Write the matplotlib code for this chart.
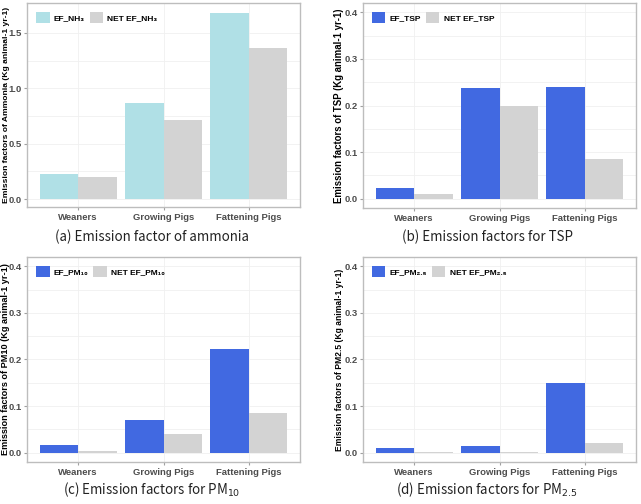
import matplotlib.pyplot as plt
import numpy as np

plt.rcParams["font.family"] = ["Liberation Sans", "DejaVu Sans"]

categories = ["Weaners", "Growing Pigs", "Fattening Pigs"]

ef_nh3 = [0.223, 0.867, 1.683]
net_nh3 = [0.199, 0.716, 1.367]
ef_tsp = [0.022, 0.2375, 0.2405]
net_tsp = [0.0107, 0.200, 0.085]
ef_pm10 = [0.017, 0.071, 0.2235]
net_pm10 = [0.0043, 0.041, 0.0855]
ef_pm25 = [0.011, 0.015, 0.1505]
net_pm25 = [0.0005, 0.002, 0.021]

W, H = 641, 504
fig = plt.figure(figsize=(W / 100, H / 100), dpi=100)


def px_axes(x0, y0, x1, y1):
    return fig.add_axes([x0 / W, 1 - y1 / H, (x1 - x0) / W, (y1 - y0) / H])


def panel(ax, ef, net, c_ef, lab_ef, lab_net, ylabel, yticks, ylim, lab_x, lab_len):
    x = np.arange(1, len(categories) + 1)
    w = 0.45
    ax.bar(x - w / 2, ef, w, color=c_ef, label=lab_ef, zorder=2)
    ax.bar(x + w / 2, net, w, color="#D3D3D3", label=lab_net, zorder=2)
    ax.set_xlim(0.4, 3.6)
    ax.set_ylim(*ylim)
    ax.set_xticks(x)
    ax.set_xticklabels(categories, fontsize=6.8, fontweight="bold", color="#4D4D4D")
    ax.set_yticks(yticks)
    ax.set_yticklabels([f"{t:.1f}" for t in yticks], fontsize=6.8,
                       fontweight="bold", color="#4D4D4D")
    minor = [(a + b) / 2 for a, b in zip(yticks[:-1], yticks[1:])]
    ax.set_yticks(minor, minor=True)
    ax.tick_params(which="minor", length=0)
    ax.tick_params(which="major", length=2.5, color="#A0A0A0", pad=1.5)
    ax.grid(True, which="both", color="#F0F0F0", linewidth=0.6, zorder=0)
    ax.set_axisbelow(True)
    for s in ax.spines.values():
        s.set_color("#BDBDBD")
        s.set_linewidth(1.0)
    lab = ax.set_ylabel(ylabel, fontsize=7, fontweight="bold")
    ax.yaxis.set_label_coords(lab_x, 0.5)
    # shrink/grow the y label so it spans about as far as in the original
    r = fig.canvas.get_renderer()
    h = lab.get_window_extent(r).height
    lab.set_fontsize(7 * lab_len / h)
    ax.legend(loc="upper left", ncol=2, frameon=False,
              handlelength=1.6, handleheight=1.7, columnspacing=0.6,
              handletextpad=0.5, borderaxespad=0.7,
              prop={"size": 6, "weight": "bold",
                    "family": ["Liberation Sans", "DejaVu Sans"]})


ax_a = px_axes(27, 3, 300, 207)
panel(ax_a, ef_nh3, net_nh3, "#B0E0E6", "EF_NH₃", "NET EF_NH₃",
      "Emission factors of Ammonia (Kg animal-1 yr-1)",
      [0.0, 0.5, 1.0, 1.5], (-0.072, 1.77), -0.064, 193)

ax_b = px_axes(363, 3, 636, 208)
panel(ax_b, ef_tsp, net_tsp, "#4169E1", "EF_TSP", "NET EF_TSP",
      "Emission factors of TSP (Kg animal-1 yr-1)",
      [0.0, 0.1, 0.2, 0.3, 0.4], (-0.02, 0.42), -0.068, 194)

ax_c = px_axes(27, 257, 300, 462)
panel(ax_c, ef_pm10, net_pm10, "#4169E1", "EF_PM₁₀", "NET EF_PM₁₀",
      "Emission factors of PM10 (Kg animal-1 yr-1)",
      [0.0, 0.1, 0.2, 0.3, 0.4], (-0.02, 0.42), -0.064, 191)

ax_d = px_axes(363, 257, 636, 462)
panel(ax_d, ef_pm25, net_pm25, "#4169E1", "EF_PM₂.₅", "NET EF_PM₂.₅",
      "Emission factors of PM2.5 (Kg animal-1 yr-1)",
      [0.0, 0.1, 0.2, 0.3, 0.4], (-0.02, 0.42), -0.068, 181)

cap = dict(fontsize=9.6, ha="center", va="center",
           family=["Noto Sans CJK KR", "DejaVu Sans"], color="#222222")
fig.text(152 / W, 1 - 237 / H, "(a) Emission factor of ammonia", **cap)
fig.text(487 / W, 1 - 237 / H, "(b) Emission factors for TSP", **cap)
fig.text(152 / W, 1 - 490 / H, "(c) Emission factors for PM$_{10}$", **cap)
fig.text(487 / W, 1 - 490 / H, "(d) Emission factors for PM$_{2.5}$", **cap)

fig.savefig("out.png", dpi=100)
